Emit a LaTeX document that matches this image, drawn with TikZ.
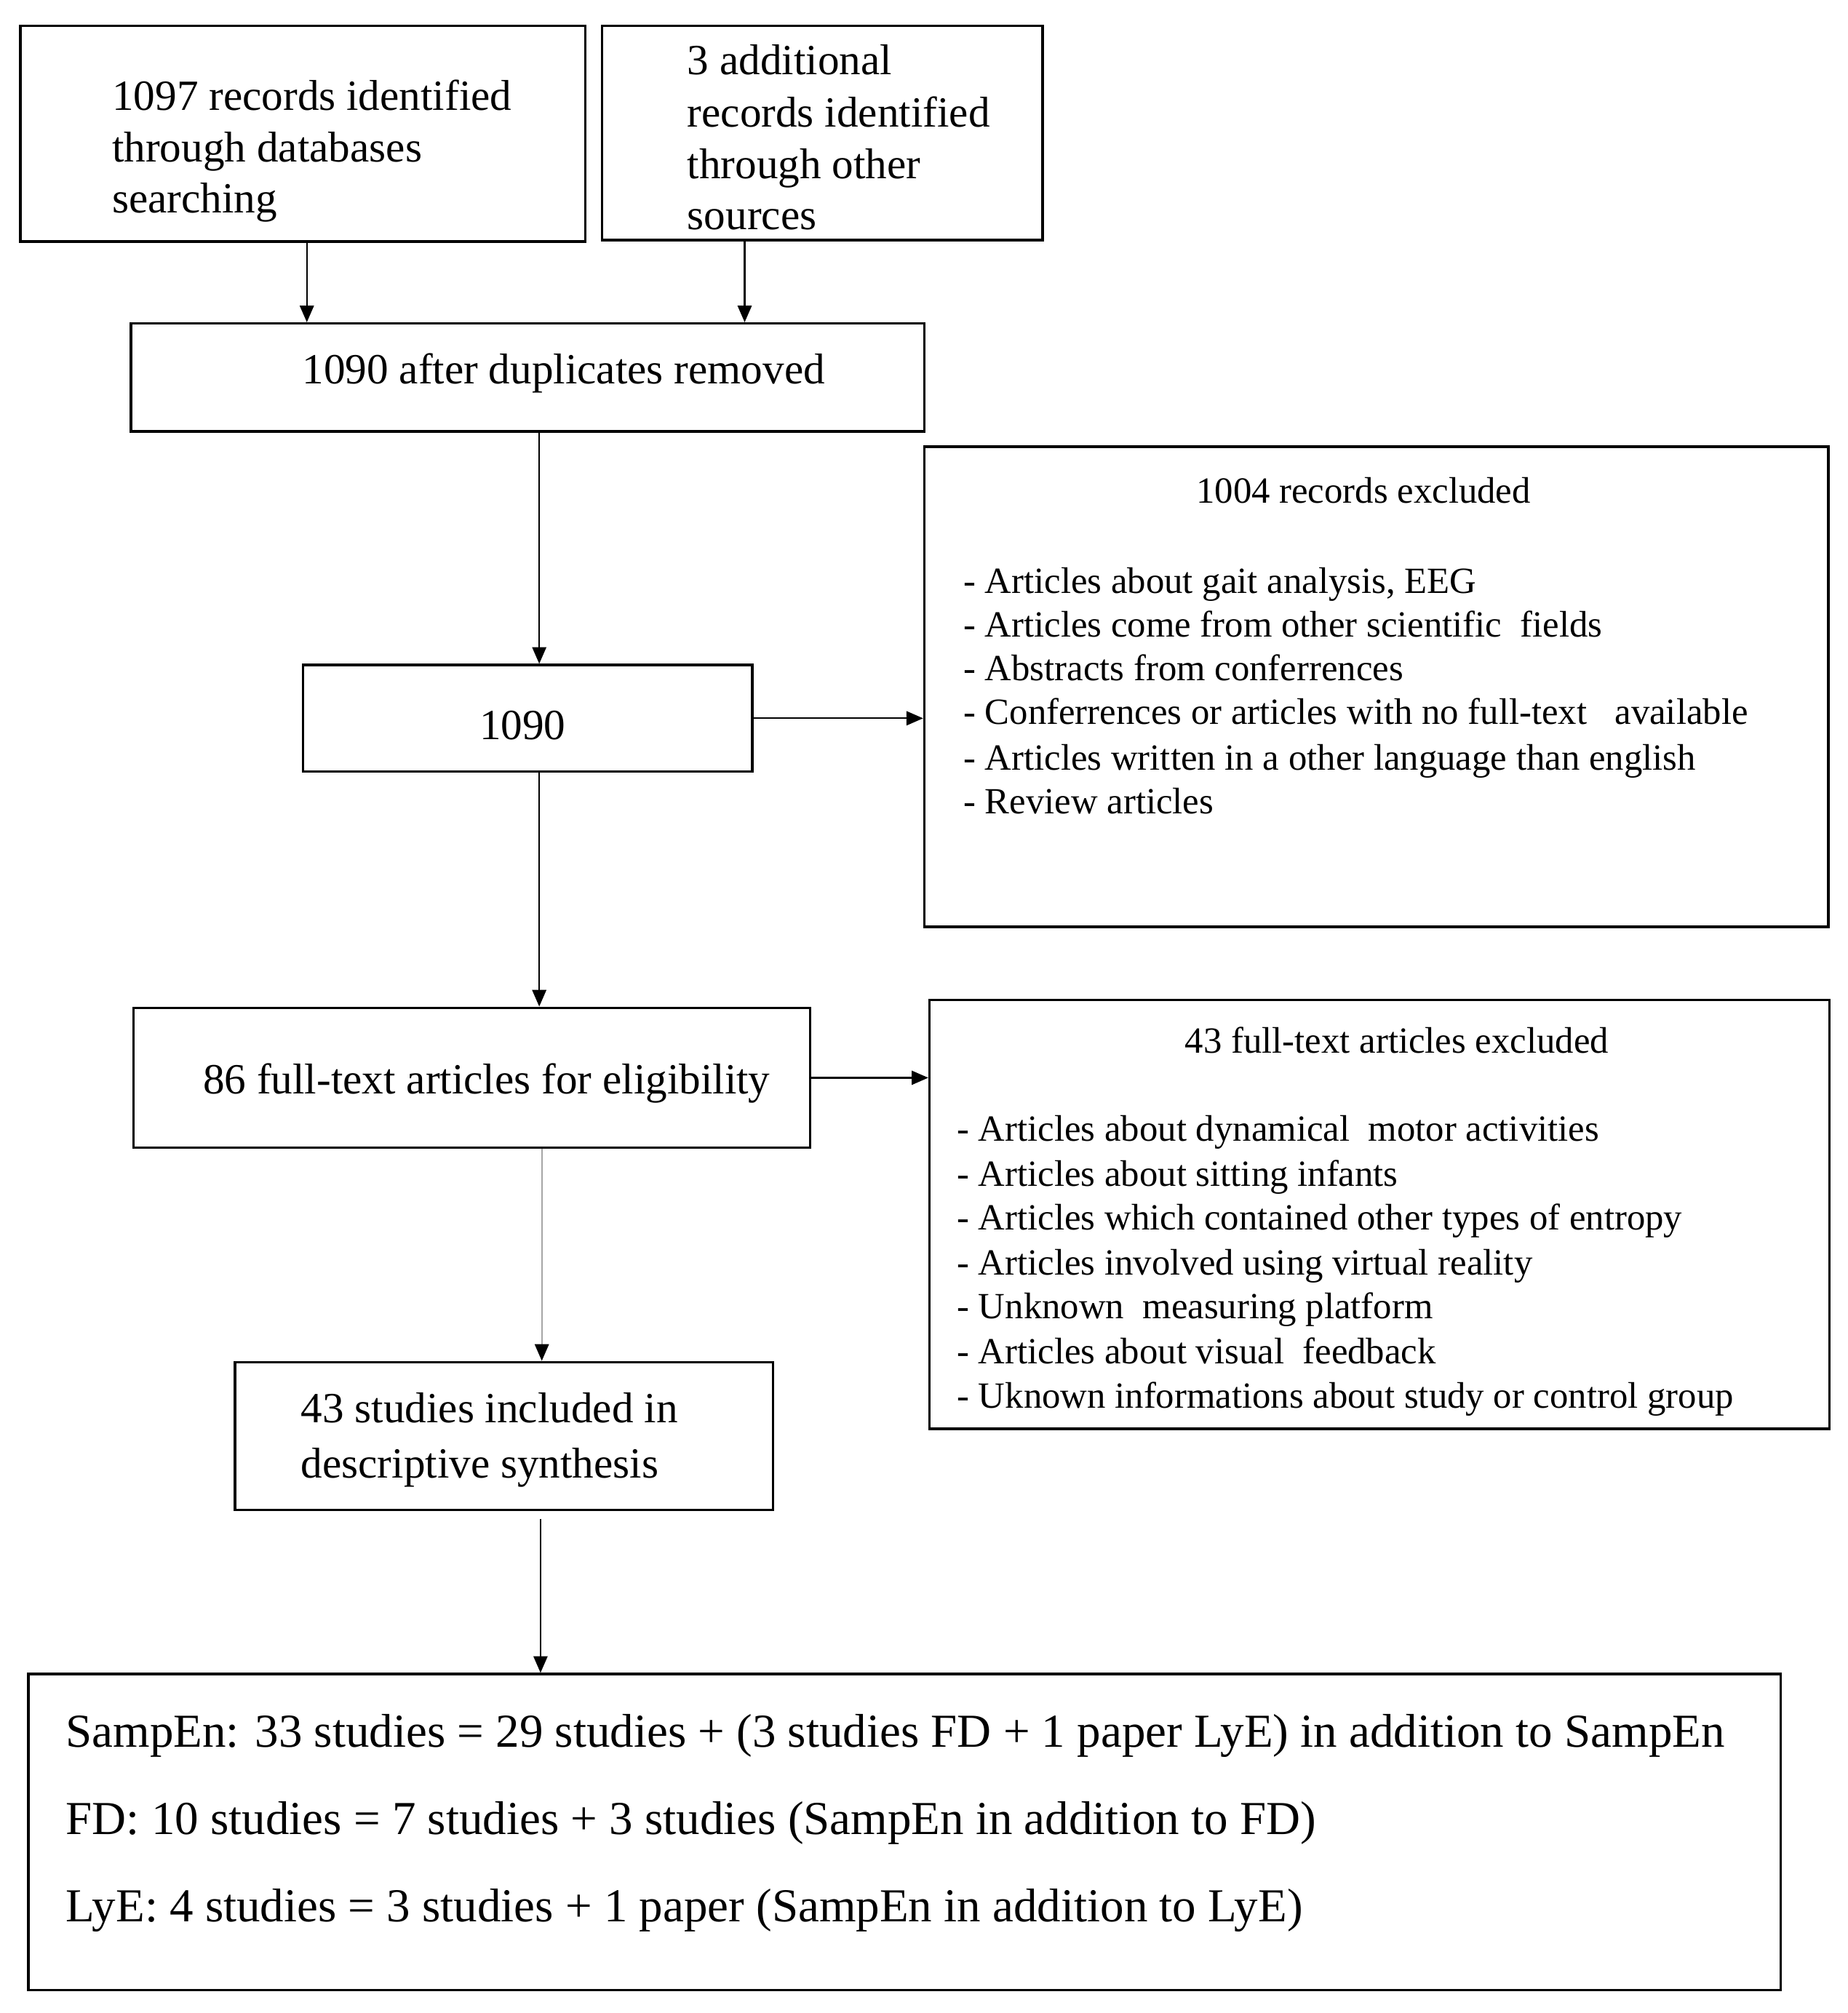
\documentclass[tikz,border=0pt]{standalone}
\usepackage{fontspec}
\setmainfont{Liberation Serif}
\usetikzlibrary{fit,arrows.meta}
\begin{document}
\begin{tikzpicture}[x=0.01765cm,y=-0.01765cm,
  box/.style={draw=black, line width=1pt, inner sep=0pt},
  arr/.style={line width=0.6pt, -{Triangle[length=6.5pt,width=5.5pt]}},
  tmain/.style={font=\fontsize{16.85pt}{20pt}\selectfont, inner sep=0pt},
  tlist/.style={font=\fontsize{14.45pt}{17pt}\selectfont, inner sep=0pt},
  tbig/.style={font=\fontsize{18.5pt}{22pt}\selectfont, inner sep=0pt, anchor=base west},
]
\useasboundingbox (0,0) rectangle (1439,1568);

% boxes
\node[box, fit={(16,20) (456,188)}] (A) {};
\node[box, fit={(469,20) (812,187)}] (B) {};
\node[box, fit={(102,252) (720,336)}] (C) {};
\node[box, fit={(236,518) (586,601)}] (D) {};
\node[box, fit={(720,348) (1424,722)}] (E) {};
\node[box, fit={(104,785) (631,894)}] (F) {};
\node[box, fit={(724,779) (1425,1113)}] (G) {};
\node[box, fit={(183,1061) (602,1176)}] (H) {};
\node[box, fit={(22,1304) (1387,1550)}] (I) {};

% texts
\node[tmain, anchor=base west] (a1) at (87,86) {1097 records identified};
\node[tmain, anchor=base west] (a2) at (87,126) {through databases};
\node[tmain, anchor=base west] (a3) at (87,166) {searching};

\node[tmain, anchor=base west] (b1) at (535,58) {3 additional};
\node[tmain, anchor=base west] (b2) at (535,99) {records identified};
\node[tmain, anchor=base west] (b3) at (535,139) {through other};
\node[tmain, anchor=base west] (b4) at (535,179) {sources};

\node[tmain, anchor=base] (c1) at (439,299) {1090 after duplicates removed};
\node[tmain, anchor=base] (d1) at (407,576) {1090};

\node[tlist, anchor=base] (e0) at (1062,392) {1004 records excluded};
\node[tlist, anchor=base west] (e1) at (750,462) {- Articles about gait analysis, EEG};
\node[tlist, anchor=base west] (e2) at (750,496) {- Articles come from other scientific~ fields};
\node[tlist, anchor=base west] (e3) at (750,530) {- Abstracts from conferrences};
\node[tlist, anchor=base west] (e4) at (750,564) {- Conferrences or articles with no full-text~~~available};
\node[tlist, anchor=base west] (e5) at (750,600) {- Articles written in a other language than english};
\node[tlist, anchor=base west] (e6) at (750,634) {- Review articles};

\node[tmain, anchor=base] (f1) at (379,852) {86 full-text articles for eligibility};

\node[tlist, anchor=base] (g0) at (1088,820) {43 full-text articles excluded};
\node[tlist, anchor=base west] (g1) at (745,889) {- Articles about dynamical~ motor activities};
\node[tlist, anchor=base west] (g2) at (745,924) {- Articles about sitting infants};
\node[tlist, anchor=base west] (g3) at (745,958) {- Articles which contained other types of entropy};
\node[tlist, anchor=base west] (g4) at (745,993) {- Articles involved using virtual reality};
\node[tlist, anchor=base west] (g5) at (745,1027) {- Unknown~ measuring platform};
\node[tlist, anchor=base west] (g6) at (745,1062) {- Articles about visual~ feedback};
\node[tlist, anchor=base west] (g7) at (745,1097) {- Uknown informations about study or control group};

\node[tmain, anchor=base west] (h1) at (234,1108) {43 studies included in};
\node[tmain, anchor=base west] (h2) at (234,1151) {descriptive synthesis};

\node[tbig] (i1) at (51,1361) {SampEn: 33 studies = 29 studies + (3 studies FD + 1 paper LyE) in addition to SampEn};
\node[tbig] (i2) at (51,1429) {FD: 10 studies = 7 studies + 3 studies (SampEn in addition to FD)};
\node[tbig] (i3) at (51,1497) {LyE: 4 studies = 3 studies + 1 paper (SampEn in addition to LyE)};

% connectors
\coordinate (xa) at (239,0);
\coordinate (xb) at (580,0);
\coordinate (xc) at (420,0);
\coordinate (xf) at (422,0);
\coordinate (xh) at (421,0);
\draw[arr] (A.south -| xa) -- (C.north -| xa);
\draw[arr] (B.south -| xb) -- (C.north -| xb);
\draw[arr] (C.south -| xc) -- (D.north -| xc);
\draw[arr] (D.east) -- (D.east -| E.west);
\draw[arr] (D.south -| xc) -- (F.north -| xc);
\draw[arr] (F.east) -- (F.east -| G.west);
\draw[line width=0.6pt, draw=gray!70, -{Triangle[length=6.5pt,width=5.5pt,color=black]}] (F.south -| xf) -- (H.north -| xf);
\draw[arr, shorten <=3pt] (H.south -| xh) -- (I.north -| xh);
\end{tikzpicture}
\end{document}
